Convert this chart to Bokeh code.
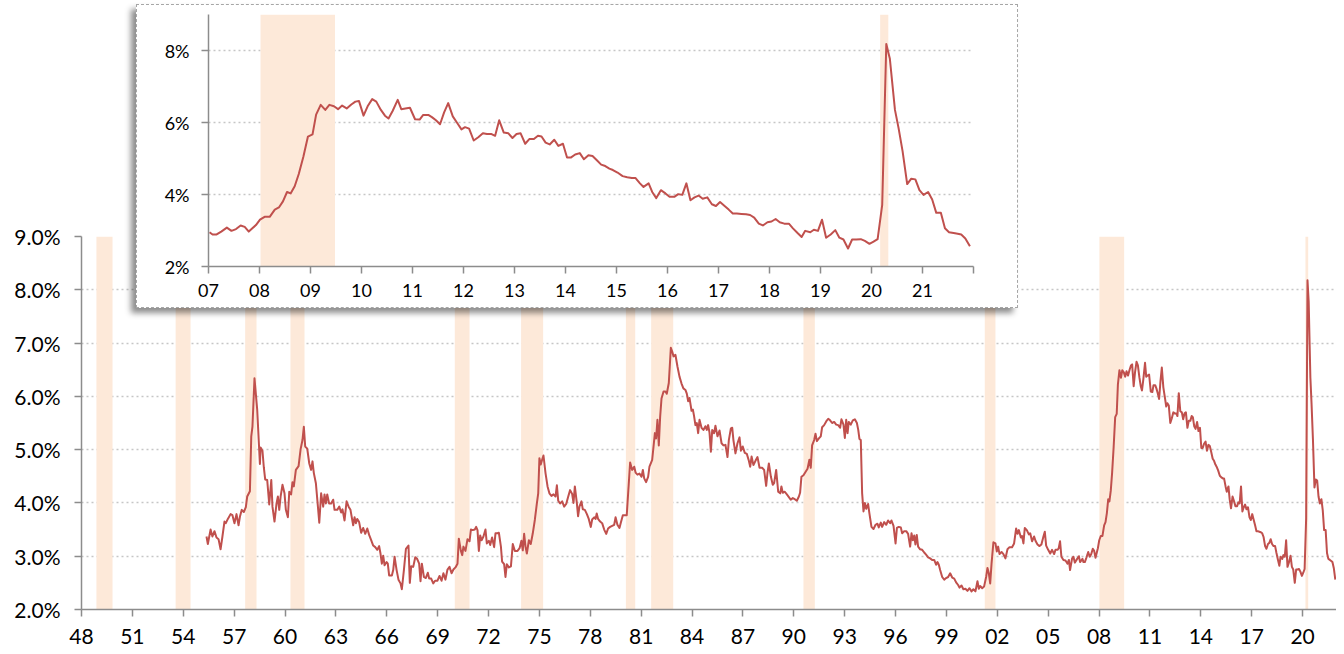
from bokeh.plotting import figure
from bokeh.models import FixedTicker, PrintfTickFormatter
from bokeh.layouts import column
from bokeh.embed import file_html
from bokeh.resources import INLINE

# ---------------- data ----------------
# recessions (decimal years)
rec_start = [1948.88, 1953.55, 1957.65, 1960.32, 1970.01, 1973.92, 1980.10, 1981.59, 1990.57, 2001.26, 2008.02, 2020.17]
rec_end   = [1949.83, 1954.43, 1958.32, 1961.15, 1970.88, 1975.22, 1980.65, 1982.89, 1991.24, 2001.89, 2009.48, 2020.33]

# long history 1955-2006 (%)
hist_years = [
    1955.37, 1955.45, 1955.61, 1955.72, 1955.84, 1955.96, 1956.08, 1956.20, 1956.31, 1956.43, 1956.51, 1956.63,
    1956.79, 1956.90, 1957.02, 1957.14, 1957.26, 1957.34, 1957.45, 1957.57, 1957.69, 1957.77, 1957.93, 1958.01,
    1958.08, 1958.20, 1958.36, 1958.52, 1958.56, 1958.67, 1958.75, 1958.83, 1958.95, 1959.07, 1959.19, 1959.26,
    1959.38, 1959.50, 1959.58, 1959.66, 1959.74, 1959.85, 1959.97, 1960.05, 1960.17, 1960.25, 1960.36, 1960.44,
    1960.52, 1960.64, 1960.80, 1960.92, 1961.03, 1961.11, 1961.19, 1961.31, 1961.43, 1961.54, 1961.62, 1961.70,
    1961.82, 1961.94, 1962.02, 1962.13, 1962.25, 1962.33, 1962.41, 1962.49, 1962.60, 1962.72, 1962.84, 1962.92,
    1963.08, 1963.20, 1963.31, 1963.39, 1963.51, 1963.63, 1963.75, 1963.86, 1964.02, 1964.10, 1964.18, 1964.26,
    1964.37, 1964.49, 1964.61, 1964.73, 1964.85, 1964.96, 1965.08, 1965.20, 1965.32, 1965.44, 1965.55, 1965.63,
    1965.71, 1965.79, 1965.87, 1965.99, 1966.06, 1966.14, 1966.30, 1966.38, 1966.46, 1966.58, 1966.69, 1966.81,
    1966.89, 1967.01, 1967.13, 1967.28, 1967.36, 1967.44, 1967.56, 1967.68, 1967.79, 1967.91, 1967.99, 1968.07,
    1968.19, 1968.30, 1968.42, 1968.50, 1968.62, 1968.74, 1968.85, 1968.99, 1969.11, 1969.23, 1969.34, 1969.46,
    1969.58, 1969.70, 1969.82, 1969.93, 1970.05, 1970.17, 1970.25, 1970.37, 1970.45, 1970.52, 1970.64, 1970.76,
    1970.88, 1970.96, 1971.07, 1971.19, 1971.27, 1971.35, 1971.43, 1971.51, 1971.59, 1971.70, 1971.82, 1971.90,
    1972.02, 1972.10, 1972.21, 1972.33, 1972.41, 1972.53, 1972.61, 1972.73, 1972.80, 1972.92, 1973.00, 1973.08,
    1973.20, 1973.32, 1973.43, 1973.55, 1973.71, 1973.83, 1973.94, 1974.02, 1974.10, 1974.18, 1974.26, 1974.38,
    1974.49, 1974.61, 1974.73, 1974.85, 1974.93, 1975.00, 1975.08, 1975.16, 1975.24, 1975.36, 1975.48, 1975.59,
    1975.71, 1975.83, 1975.95, 1976.03, 1976.11, 1976.22, 1976.34, 1976.46, 1976.58, 1976.70, 1976.81, 1976.93,
    1977.01, 1977.09, 1977.21, 1977.28, 1977.36, 1977.48, 1977.56, 1977.68, 1977.80, 1977.91, 1978.03, 1978.11,
    1978.23, 1978.31, 1978.38, 1978.46, 1978.58, 1978.70, 1978.82, 1978.94, 1979.05, 1979.17, 1979.29, 1979.41,
    1979.49, 1979.60, 1979.72, 1979.80, 1979.92, 1980.04, 1980.15, 1980.27, 1980.35, 1980.47, 1980.59, 1980.67,
    1980.78, 1980.90, 1981.02, 1981.10, 1981.18, 1981.29, 1981.41, 1981.49, 1981.65, 1981.73, 1981.81, 1981.88,
    1981.96, 1982.04, 1982.12, 1982.20, 1982.32, 1982.43, 1982.51, 1982.63, 1982.75, 1982.83, 1982.91, 1983.02,
    1983.14, 1983.26, 1983.38, 1983.49, 1983.61, 1983.69, 1983.77, 1983.85, 1983.97, 1984.05, 1984.12, 1984.20,
    1984.28, 1984.36, 1984.44, 1984.56, 1984.67, 1984.79, 1984.87, 1984.95, 1985.03, 1985.11, 1985.19, 1985.30,
    1985.38, 1985.50, 1985.62, 1985.74, 1985.85, 1985.97, 1986.09, 1986.17, 1986.29, 1986.37, 1986.44, 1986.56,
    1986.68, 1986.80, 1986.88, 1986.99, 1987.11, 1987.23, 1987.35, 1987.43, 1987.51, 1987.62, 1987.74, 1987.86,
    1987.98, 1988.13, 1988.25, 1988.37, 1988.45, 1988.53, 1988.65, 1988.76, 1988.84, 1988.96, 1989.08, 1989.20,
    1989.27, 1989.35, 1989.47, 1989.59, 1989.71, 1989.82, 1989.94, 1990.06, 1990.18, 1990.30, 1990.37, 1990.45,
    1990.57, 1990.69, 1990.81, 1990.92, 1991.00, 1991.08, 1991.20, 1991.28, 1991.36, 1991.48, 1991.59, 1991.67,
    1991.79, 1991.91, 1992.03, 1992.14, 1992.26, 1992.38, 1992.50, 1992.62, 1992.73, 1992.81, 1992.93, 1993.01,
    1993.09, 1993.17, 1993.24, 1993.36, 1993.48, 1993.60, 1993.72, 1993.80, 1993.87, 1993.95, 1994.03, 1994.11,
    1994.19, 1994.27, 1994.38, 1994.46, 1994.58, 1994.70, 1994.82, 1994.93, 1995.01, 1995.13, 1995.21, 1995.33,
    1995.45, 1995.56, 1995.68, 1995.76, 1995.88, 1996.00, 1996.08, 1996.19, 1996.31, 1996.39, 1996.51, 1996.63,
    1996.74, 1996.86, 1996.94, 1997.02, 1997.10, 1997.17, 1997.25, 1997.33, 1997.45, 1997.57, 1997.69, 1997.80,
    1997.92, 1998.04, 1998.16, 1998.28, 1998.39, 1998.47, 1998.55, 1998.63, 1998.75, 1998.87, 1998.98, 1999.10,
    1999.22, 1999.34, 1999.46, 1999.57, 1999.69, 1999.77, 1999.89, 2000.00, 2000.12, 2000.24, 2000.36, 2000.48,
    2000.59, 2000.71, 2000.83, 2000.91, 2000.99, 2001.11, 2001.22, 2001.34, 2001.42, 2001.50, 2001.58, 2001.66,
    2001.77, 2001.89, 2001.97, 2002.05, 2002.13, 2002.25, 2002.36, 2002.48, 2002.60, 2002.72, 2002.87, 2002.99,
    2003.11, 2003.19, 2003.27, 2003.39, 2003.46, 2003.54, 2003.62, 2003.74, 2003.86, 2003.94, 2004.05, 2004.17,
    2004.25, 2004.37, 2004.49, 2004.60, 2004.72, 2004.80, 2004.88, 2005.00, 2005.12, 2005.23, 2005.35, 2005.43,
    2005.55, 2005.62, 2005.70, 2005.78, 2005.90, 2006.02, 2006.14, 2006.22, 2006.29, 2006.41, 2006.49, 2006.57,
    2006.69, 2006.81, 2006.88,
]
hist_values = [
    3.37, 3.23, 3.50, 3.37, 3.47, 3.35, 3.32, 3.13, 3.37, 3.65, 3.62, 3.70,
    3.79, 3.77, 3.62, 3.79, 3.58, 3.74, 3.87, 3.83, 3.92, 4.12, 4.22, 5.25,
    5.43, 6.34, 5.75, 4.73, 5.04, 4.98, 4.67, 4.44, 4.43, 3.97, 4.43, 3.93,
    3.65, 3.99, 4.12, 3.87, 4.12, 4.34, 4.18, 3.87, 3.73, 4.21, 4.16, 4.39,
    4.31, 4.62, 4.69, 5.01, 5.18, 5.43, 5.06, 5.02, 4.74, 4.62, 4.78, 4.56,
    4.37, 3.93, 3.63, 4.18, 3.93, 4.16, 3.99, 4.16, 3.99, 3.99, 4.06, 3.87,
    3.87, 3.93, 3.82, 3.88, 3.67, 4.03, 3.93, 3.87, 3.58, 3.73, 3.62, 3.70,
    3.64, 3.44, 3.53, 3.42, 3.52, 3.40, 3.30, 3.20, 3.17, 3.12, 3.19, 3.05,
    2.86, 3.01, 2.83, 2.89, 2.86, 2.64, 2.64, 2.74, 2.99, 2.74, 2.56, 2.49,
    2.38, 2.74, 3.14, 3.20, 2.50, 2.81, 2.80, 2.98, 2.95, 2.86, 2.53, 2.86,
    2.61, 2.59, 2.69, 2.58, 2.58, 2.49, 2.54, 2.54, 2.63, 2.54, 2.68, 2.56,
    2.75, 2.80, 2.68, 2.75, 2.79, 2.86, 3.33, 3.10, 3.02, 3.18, 3.10, 3.32,
    3.28, 3.50, 3.49, 3.50, 3.55, 3.49, 3.10, 3.39, 3.30, 3.37, 3.50, 3.24,
    3.29, 3.21, 3.35, 3.17, 3.43, 3.43, 3.44, 3.18, 2.90, 2.85, 2.61, 2.85,
    2.79, 2.81, 3.23, 3.10, 3.10, 3.15, 3.29, 3.11, 3.42, 3.18, 3.05, 3.30,
    3.23, 3.43, 3.68, 3.99, 4.18, 4.84, 4.72, 4.81, 4.89, 4.56, 4.31, 4.18,
    4.13, 4.16, 4.12, 4.33, 4.04, 3.99, 4.03, 3.93, 3.98, 4.12, 4.24, 4.17,
    4.00, 4.31, 3.99, 3.75, 3.93, 4.03, 3.88, 3.87, 3.79, 3.70, 3.55, 3.69,
    3.73, 3.70, 3.80, 3.70, 3.65, 3.62, 3.50, 3.42, 3.52, 3.55, 3.57, 3.59,
    3.73, 3.59, 3.53, 3.63, 3.77, 3.77, 3.77, 4.37, 4.76, 4.62, 4.68, 4.57,
    4.53, 4.55, 4.49, 4.62, 4.46, 4.39, 4.49, 4.68, 4.81, 5.06, 5.31, 5.21,
    5.56, 5.08, 5.62, 5.96, 6.09, 6.09, 6.05, 6.25, 6.91, 6.84, 6.75, 6.78,
    6.56, 6.37, 6.24, 6.15, 6.12, 6.05, 5.91, 5.97, 5.73, 5.75, 5.63, 5.46,
    5.50, 5.31, 5.56, 5.41, 5.37, 5.44, 5.37, 5.46, 5.32, 4.96, 5.37, 5.31,
    5.45, 5.25, 5.36, 5.12, 5.08, 5.09, 4.86, 5.18, 5.40, 5.41, 5.18, 4.93,
    5.12, 5.23, 4.98, 5.06, 4.94, 4.92, 4.79, 4.68, 4.87, 4.71, 4.79, 4.86,
    4.66, 4.66, 4.62, 4.32, 4.57, 4.74, 4.49, 4.34, 4.37, 4.62, 4.21, 4.18,
    4.31, 4.19, 4.21, 4.16, 4.11, 4.06, 4.09, 4.07, 4.04, 4.12, 4.19, 4.49,
    4.52, 4.58, 4.64, 4.81, 4.66, 5.08, 5.18, 5.30, 5.16, 5.21, 5.25, 5.42,
    5.46, 5.53, 5.58, 5.55, 5.50, 5.52, 5.47, 5.46, 5.41, 5.57, 5.47, 5.22,
    5.56, 5.31, 5.52, 5.47, 5.55, 5.57, 5.50, 5.37, 5.20, 5.18, 4.18, 3.84,
    4.00, 3.89, 3.98, 3.80, 3.55, 3.51, 3.59, 3.61, 3.54, 3.63, 3.55, 3.64,
    3.59, 3.67, 3.62, 3.67, 3.57, 3.24, 3.53, 3.55, 3.54, 3.43, 3.47, 3.47,
    3.42, 3.18, 3.43, 3.30, 3.39, 3.22, 3.40, 3.18, 3.13, 3.12, 3.07, 3.03,
    2.98, 2.96, 2.93, 2.93, 2.84, 2.89, 2.84, 2.74, 2.61, 2.56, 2.59, 2.61,
    2.68, 2.60, 2.58, 2.51, 2.46, 2.41, 2.45, 2.38, 2.39, 2.35, 2.40, 2.34,
    2.38, 2.34, 2.53, 2.39, 2.44, 2.40, 2.43, 2.61, 2.78, 2.68, 2.49, 2.86,
    3.26, 3.24, 3.09, 3.18, 3.04, 3.08, 3.04, 2.96, 3.13, 3.17, 3.17, 3.24,
    3.52, 3.42, 3.49, 3.35, 3.38, 3.24, 3.53, 3.49, 3.41, 3.43, 3.28, 3.37,
    3.29, 3.22, 3.19, 3.22, 3.37, 3.46, 3.20, 3.12, 3.05, 3.12, 3.04, 3.12,
    3.12, 3.15, 3.28, 2.99, 2.93, 2.92, 2.86, 2.93, 2.74, 2.96, 2.99, 2.88,
    2.94, 3.00, 2.89,
]

# recent monthly history 2007-2021 (%), shown in the inset and in the main chart
recent_years = [
    2007.02, 2007.08, 2007.16, 2007.25, 2007.36, 2007.45, 2007.54, 2007.63, 2007.71, 2007.79, 2007.86, 2007.93,
    2008.01, 2008.10, 2008.20, 2008.30, 2008.38, 2008.46, 2008.54, 2008.61, 2008.69, 2008.77, 2008.86, 2008.95,
    2009.04, 2009.11, 2009.20, 2009.29, 2009.37, 2009.46, 2009.54, 2009.62, 2009.71, 2009.80, 2009.88, 2009.95,
    2010.04, 2010.12, 2010.21, 2010.29, 2010.38, 2010.46, 2010.53, 2010.61, 2010.71, 2010.78, 2010.86, 2010.95,
    2011.05, 2011.14, 2011.21, 2011.31, 2011.38, 2011.46, 2011.54, 2011.62, 2011.70, 2011.79, 2011.88, 2011.96,
    2012.03, 2012.11, 2012.20, 2012.29, 2012.38, 2012.46, 2012.55, 2012.62, 2012.70, 2012.79, 2012.88, 2012.96,
    2013.04, 2013.12, 2013.21, 2013.29, 2013.38, 2013.46, 2013.53, 2013.61, 2013.69, 2013.78, 2013.86, 2013.95,
    2014.03, 2014.11, 2014.19, 2014.28, 2014.36, 2014.45, 2014.53, 2014.61, 2014.70, 2014.78, 2014.86, 2014.93,
    2015.02, 2015.12, 2015.21, 2015.30, 2015.37, 2015.46, 2015.53, 2015.63, 2015.70, 2015.78, 2015.87, 2015.96,
    2016.04, 2016.14, 2016.21, 2016.29, 2016.37, 2016.45, 2016.53, 2016.61, 2016.69, 2016.78, 2016.87, 2016.95,
    2017.03, 2017.12, 2017.20, 2017.28, 2017.36, 2017.45, 2017.54, 2017.62, 2017.70, 2017.79, 2017.87, 2017.96,
    2018.04, 2018.12, 2018.20, 2018.29, 2018.38, 2018.46, 2018.55, 2018.63, 2018.70, 2018.80, 2018.87, 2018.95,
    2019.03, 2019.11, 2019.20, 2019.29, 2019.37, 2019.45, 2019.54, 2019.62, 2019.70, 2019.79, 2019.87, 2019.96,
    2020.04, 2020.12, 2020.21, 2020.29, 2020.36, 2020.46, 2020.53, 2020.61, 2020.70, 2020.78, 2020.86, 2020.94,
    2021.02, 2021.11, 2021.19, 2021.27, 2021.36, 2021.44, 2021.52, 2021.61, 2021.69, 2021.76, 2021.84, 2021.93,
]
recent_values = [
    2.95, 2.89, 2.89, 2.97, 3.08, 2.99, 3.04, 3.14, 3.10, 2.97, 3.06, 3.15,
    3.30, 3.38, 3.38, 3.58, 3.64, 3.81, 4.07, 4.03, 4.23, 4.57, 5.05, 5.61,
    5.67, 6.22, 6.49, 6.35, 6.49, 6.45, 6.37, 6.47, 6.39, 6.50, 6.58, 6.60,
    6.19, 6.45, 6.65, 6.58, 6.35, 6.19, 6.11, 6.32, 6.63, 6.37, 6.39, 6.41,
    6.09, 6.08, 6.21, 6.21, 6.15, 6.06, 5.95, 6.28, 6.54, 6.17, 5.98, 5.81,
    5.87, 5.83, 5.50, 5.59, 5.70, 5.68, 5.68, 5.63, 6.06, 5.72, 5.70, 5.57,
    5.68, 5.70, 5.41, 5.54, 5.54, 5.63, 5.61, 5.44, 5.39, 5.52, 5.35, 5.41,
    5.03, 5.03, 5.11, 5.15, 4.98, 5.09, 5.07, 4.96, 4.83, 4.79, 4.72, 4.68,
    4.61, 4.51, 4.48, 4.46, 4.46, 4.31, 4.21, 4.31, 4.07, 3.90, 4.12, 4.03,
    3.94, 3.94, 4.01, 3.99, 4.31, 3.84, 3.92, 3.97, 3.88, 3.92, 3.73, 3.68,
    3.79, 3.68, 3.58, 3.47, 3.47, 3.46, 3.45, 3.43, 3.36, 3.19, 3.14, 3.23,
    3.25, 3.32, 3.23, 3.19, 3.19, 3.06, 2.93, 2.82, 2.99, 2.95, 3.02, 2.99,
    3.30, 2.80, 2.89, 3.01, 2.80, 2.75, 2.50, 2.75, 2.75, 2.76, 2.71, 2.63,
    2.69, 2.76, 3.71, 8.18, 7.77, 6.35, 5.85, 5.20, 4.29, 4.44, 4.42, 4.12,
    3.99, 4.07, 3.86, 3.49, 3.49, 3.06, 2.95, 2.93, 2.91, 2.89, 2.78, 2.56,
]

main_x_ticks = [1948, 1951, 1954, 1957, 1960, 1963, 1966, 1969, 1972, 1975, 1978, 1981, 1984, 1987,
                1990, 1993, 1996, 1999, 2002, 2005, 2008, 2011, 2014, 2017, 2020]
main_x_labels = ["48", "51", "54", "57", "60", "63", "66", "69", "72", "75", "78", "81", "84", "87",
                 "90", "93", "96", "99", "02", "05", "08", "11", "14", "17", "20"]
main_y_ticks = [2, 3, 4, 5, 6, 7, 8, 9]

inset_x_ticks = [2007, 2008, 2009, 2010, 2011, 2012, 2013, 2014, 2015, 2016, 2017, 2018, 2019, 2020, 2021, 2022]
inset_x_labels = ["07", "08", "09", "10", "11", "12", "13", "14", "15", "16", "17", "18", "19", "20", "21", ""]
inset_y_ticks = [2, 4, 6, 8]

# ---------------- style ----------------
FONT = "Lato"
LINE_COLOR = "#c0504d"
BAND_COLOR = "#fde9d9"
AXIS_COLOR = "#8c8c8c"
GRID_COLOR = "#c6c6c6"


def style_axes(fig, fs, tick_out, xstand, ystand):
    for ax in (fig.xaxis[0], fig.yaxis[0]):
        ax.axis_line_color = AXIS_COLOR
        ax.axis_line_width = 1.5
        ax.major_tick_line_color = AXIS_COLOR
        ax.major_tick_line_width = 1.5
        ax.major_tick_out = tick_out
        ax.major_tick_in = 0
        ax.minor_tick_line_color = None
        ax.major_label_text_font = FONT
        ax.major_label_text_font_size = fs
        ax.major_label_text_color = "#000000"
    fig.xaxis[0].major_label_standoff = xstand
    fig.yaxis[0].major_label_standoff = ystand
    fig.xgrid.visible = False
    fig.ygrid.grid_line_color = GRID_COLOR
    fig.ygrid.grid_line_dash = "2 3"
    fig.ygrid.grid_line_width = 1.3
    fig.outline_line_color = None


# ---------------- main chart ----------------
MAIN_H = 654
p = figure(width=1336, height=MAIN_H, x_range=(1948, 2022), y_range=(2, 9),
           output_backend="svg", toolbar_location=None,
           min_border_left=81, min_border_right=0, min_border_top=236, min_border_bottom=45)
style_axes(p, "21px", 7, 12, 14)
p.xaxis[0].ticker = FixedTicker(ticks=main_x_ticks)
p.xaxis[0].major_label_overrides = {t: l for t, l in zip(main_x_ticks, main_x_labels)}
p.yaxis[0].ticker = FixedTicker(ticks=main_y_ticks)
p.yaxis[0].formatter = PrintfTickFormatter(format="%.1f%%")

p.quad(left=rec_start, right=rec_end, bottom=2, top=9, fill_color=BAND_COLOR, line_color=None)
p.line(hist_years + recent_years, hist_values + recent_values, line_color=LINE_COLOR, line_width=2,
       line_join="round")

# ---------------- inset ----------------
q = figure(width=882, height=304, x_range=(2007, 2022), y_range=(2, 9),
           output_backend="svg", toolbar_location=None,
           min_border_left=71, min_border_right=46, min_border_top=9, min_border_bottom=43,
           styles={"border": "1px dashed #a6a6a6",
                   "box-shadow": "-5px 5px 6px rgba(0,0,0,0.45)",
                   "background-color": "#ffffff"})
style_axes(q, "18px", 7, 10, 12)
q.xaxis[0].ticker = FixedTicker(ticks=inset_x_ticks)
q.xaxis[0].major_label_overrides = {t: l for t, l in zip(inset_x_ticks, inset_x_labels)}
q.yaxis[0].ticker = FixedTicker(ticks=inset_y_ticks)
q.yaxis[0].formatter = PrintfTickFormatter(format="%d%%")

in_start = [s for s, e in zip(rec_start, rec_end) if e > 2007]
in_end = [e for s, e in zip(rec_start, rec_end) if e > 2007]
q.quad(left=in_start, right=in_end, bottom=2, top=9, fill_color=BAND_COLOR, line_color=None)
q.line(recent_years, recent_values, line_color=LINE_COLOR, line_width=2, line_join="round")

# wrap each figure separately so their frames are not aligned with each other
main_box = column(p)
inset_box = column(q, margin=(4 - MAIN_H, 0, 0, 136))
layout = column(main_box, inset_box)
open("out.html", "w").write(file_html(layout, INLINE))
